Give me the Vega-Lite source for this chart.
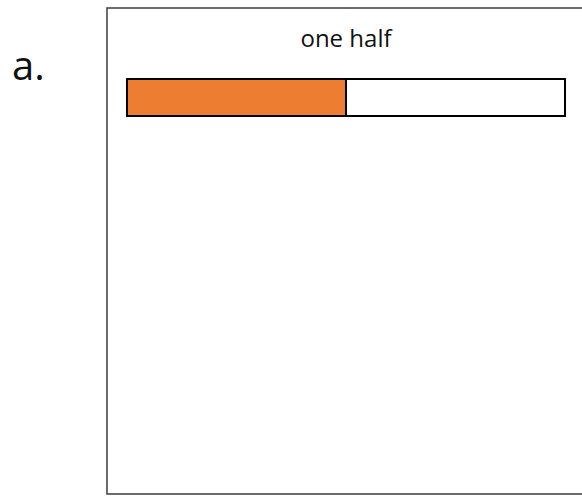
{
  "$schema": "https://vega.github.io/schema/vega-lite/v6.json",
  "autosize": {"type": "fit", "contains": "padding"},
  "width": 582,
  "height": 496,
  "padding": 0,
  "background": "#ffffff",
  "config": {"view": {"stroke": null}},
  "layer": [
    {
      "data": {"values": [{"element": "frame"}]},
      "mark": {"type": "rect", "fill": null, "stroke": "#3c3c3c", "strokeWidth": 1.5, "clip": true},
      "encoding": {
        "x": {"datum": -0.0457, "type": "quantitative", "scale": {"domain": [-0.28995, 1.03881], "nice": false, "zero": false}, "axis": null},
        "x2": {"datum": 1.06},
        "y": {"datum": 0.0183, "type": "quantitative", "scale": {"domain": [0, 1.13242], "reverse": true, "nice": false, "zero": false}, "axis": null},
        "y2": {"datum": 1.1279}
      }
    },
    {
      "data": {"values": [
        {"part": "filled", "start": 0, "end": 0.5},
        {"part": "empty", "start": 0.5, "end": 1}
      ]},
      "mark": {"type": "rect", "stroke": "#000000", "strokeWidth": 2},
      "encoding": {
        "x": {"field": "start", "type": "quantitative", "scale": {"domain": [-0.28995, 1.03881], "nice": false, "zero": false}, "axis": null},
        "x2": {"field": "end"},
        "y": {"datum": 0.1804, "type": "quantitative", "scale": {"domain": [0, 1.13242], "reverse": true, "nice": false, "zero": false}, "axis": null},
        "y2": {"datum": 0.2648},
        "color": {"field": "part", "type": "nominal", "scale": {"domain": ["filled", "empty"], "range": ["#ED7D31", "#ffffff"]}, "legend": null}
      }
    },
    {
      "data": {"values": [{"label": "one half"}]},
      "mark": {"type": "text", "font": "Open Sans", "fontSize": 24, "align": "center", "baseline": "alphabetic", "color": "#111111"},
      "encoding": {
        "text": {"field": "label"},
        "x": {"datum": 0.5, "type": "quantitative", "scale": {"domain": [-0.28995, 1.03881], "nice": false, "zero": false}, "axis": null},
        "y": {"datum": 0.1066, "type": "quantitative", "scale": {"domain": [0, 1.13242], "reverse": true, "nice": false, "zero": false}, "axis": null}
      }
    },
    {
      "data": {"values": [{"label": "a."}]},
      "mark": {"type": "text", "font": "Open Sans", "fontSize": 40, "align": "left", "baseline": "alphabetic", "color": "#111111"},
      "encoding": {
        "text": {"field": "label"},
        "x": {"datum": -0.2626, "type": "quantitative", "scale": {"domain": [-0.28995, 1.03881], "nice": false, "zero": false}, "axis": null},
        "y": {"datum": 0.1826, "type": "quantitative", "scale": {"domain": [0, 1.13242], "reverse": true, "nice": false, "zero": false}, "axis": null}
      }
    }
  ]
}
